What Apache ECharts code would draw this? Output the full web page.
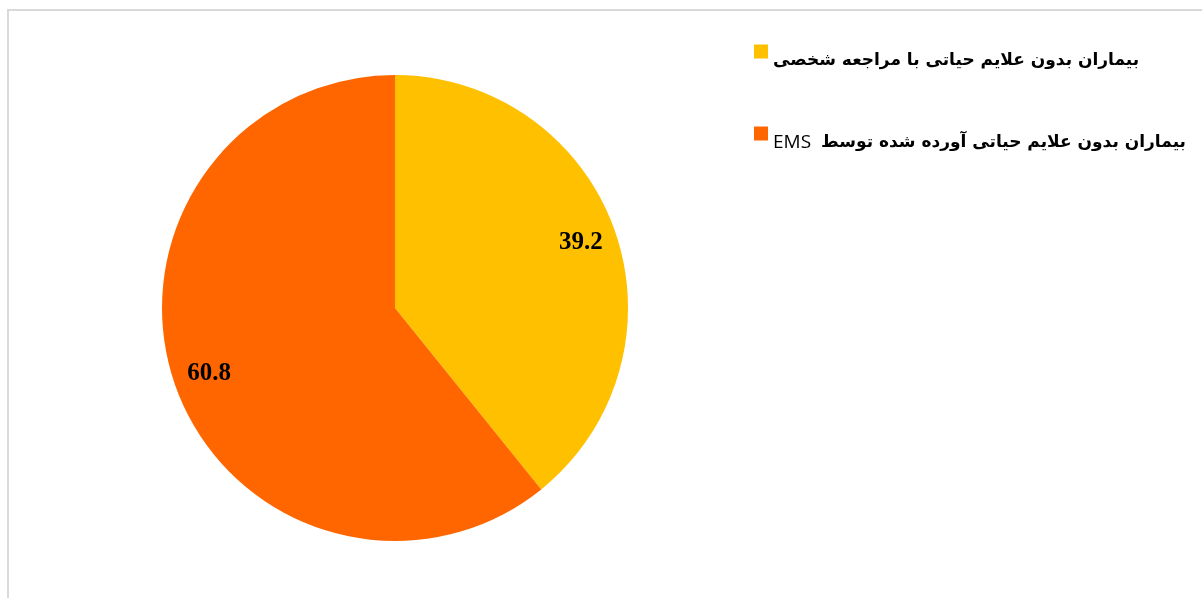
<!DOCTYPE html>
<html>
<head>
<meta charset="utf-8">
<script src="https://cdn.jsdelivr.net/npm/echarts@6/dist/echarts.min.js"></script>
<style>
html,body{margin:0;padding:0;background:#fff;}
#frame{position:absolute;left:7px;top:9px;width:1300px;height:700px;border-left:2px solid #d9d9d9;border-top:2px solid #d9d9d9;}
#chart{position:absolute;left:0;top:0;width:1202px;height:598px;}
</style>
</head>
<body>
<div id="frame"></div>
<div id="chart"></div>
<script>
const categories = ['بیماران بدون علایم حیاتی با مراجعه شخصی', 'بیماران بدون علایم حیاتی آورده شده توسط  EMS'];
const values = [39.2, 60.8];
const colors = ['#FFC000', '#FF6600'];

const data = categories.map((c, i) => ({ name: c, value: values[i], itemStyle: { color: colors[i] } }));

const chart = echarts.init(document.getElementById('chart'), null, { renderer: 'canvas' });
chart.setOption({
  animation: false,
  legend: {
    orient: 'vertical',
    left: 749,
    top: 29,
    itemWidth: 14,
    itemHeight: 14,
    itemGap: 46,
    icon: 'rect',
    data: categories,
    formatter: function (name) {
      const m = name.match(/^(.*?)\s*(EMS)$/);
      if (m) return '{n|' + m[2] + '}{s| }{b|' + m[1] + '}';
      return '{b|' + name + '}';
    },
    textStyle: {
      rich: {
        b: { fontFamily: 'DejaVu Sans', fontWeight: 'bold', fontSize: 17, lineHeight: 20, padding: [18, 0, 0, 0], color: '#000' },
        n: { fontFamily: 'Open Sans', fontWeight: 'normal', fontSize: 19, lineHeight: 20, padding: [18, 0, 0, 0], color: '#000' },
        s: { fontSize: 10, width: 10, lineHeight: 20, padding: [18, 0, 0, 0] }
      }
    }
  },
  series: [
    {
      type: 'pie',
      center: [395, 308],
      radius: [0, 233],
      startAngle: 90,
      clockwise: true,
      label: { show: false },
      labelLine: { show: false },
      silent: true,
      data: data
    },
    {
      type: 'pie',
      center: [395, 308],
      radius: [155, 233],
      startAngle: 90,
      clockwise: true,
      silent: true,
      itemStyle: { color: 'rgba(0,0,0,0)' },
      label: {
        show: true,
        position: 'inside',
        formatter: '{c}',
        fontFamily: 'Liberation Serif',
        fontWeight: 'bold',
        fontSize: 25,
        color: '#000'
      },
      labelLine: { show: false },
      data: categories.map((c, i) => ({ name: c, value: values[i], itemStyle: { color: 'rgba(0,0,0,0)' } }))
    }
  ]
});
</script>
</body>
</html>
